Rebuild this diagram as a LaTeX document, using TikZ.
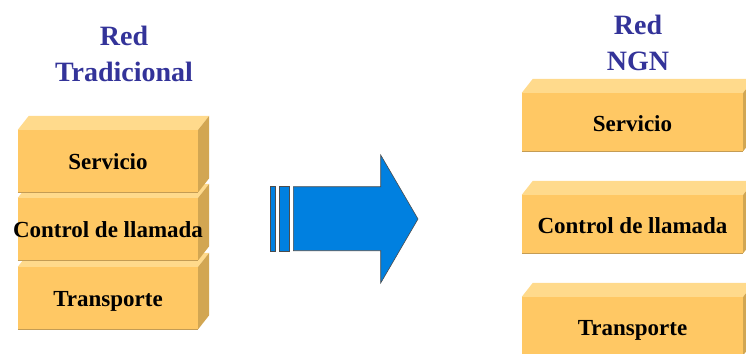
\documentclass[tikz,border=0pt]{standalone}
\usepackage{fontspec}
\setmainfont{Liberation Serif}
\usetikzlibrary{calc}

\definecolor{boxfront}{RGB}{255,200,100}
\definecolor{boxtop}{RGB}{255,218,140}
\definecolor{boxside}{RGB}{210,166,82}
\definecolor{boxedge}{RGB}{196,156,84}
\definecolor{titleblue}{RGB}{51,51,153}
\definecolor{arrowblue}{RGB}{0,128,224}

\begin{document}
\begin{tikzpicture}[
    x=1pt, y=-1pt,
    layer/.style={rectangle, fill=boxfront, inner sep=0pt},
    tradlayer/.style={layer, minimum width=180pt, minimum height=62pt},
    ngnlayer/.style={layer, minimum width=221pt, minimum height=58pt},
    topface/.style={fill=boxtop},
    sideface/.style={fill=boxside},
    bottomedge/.style={draw=boxedge, line width=1pt},
    label/.style={anchor=base, inner sep=0pt, font=\bfseries\fontsize{23}{27}\selectfont},
    title/.style={align=center, text=titleblue, font=\bfseries\fontsize{28}{36.5}\selectfont},
    bigarrow/.style={fill=arrowblue, draw=black!70, line width=0.6pt}
]
\useasboundingbox (0,0) rectangle (746,353);

% titles
\node[title] (tradtitle) at (124,54) {Red\\Tradicional};
\node[title] (ngntitle) at (638,43) {Red\\NGN};

% left stack, drawn from the bottom up so each box hides the top of the one below
\foreach \name/\y/\txt in {tradtrans/298/Transporte, tradctrl/229/Control de llamada, tradserv/161/Servicio}{
    \node[tradlayer] (\name) at (108,\y) {};
    \fill[topface] (\name.north west) -- ++(11,-14) -- ($(\name.north east)+(11,-14)$) -- (\name.north east) -- cycle;
    \fill[sideface] (\name.north east) -- ++(11,-14) -- ($(\name.south east)+(11,-14)$) -- (\name.south east) -- cycle;
    \draw[bottomedge] (\name.south west) -- (\name.south east);
    \node[label] (\name-text) at ($(\name.center)+(0,8.5)$) {\txt};
}

% right stack, separate layers
\foreach \name/\y/\txt in {ngnserv/122/Servicio, ngnctrl/224/Control de llamada, ngntrans/326/Transporte}{
    \node[ngnlayer] (\name) at (632.5,\y) {};
    \fill[topface] (\name.north west) -- ++(11,-14) -- ($(\name.north east)+(11,-14)$) -- (\name.north east) -- cycle;
    \fill[sideface] (\name.north east) -- ++(11,-14) -- ($(\name.south east)+(11,-14)$) -- (\name.south east) -- cycle;
    \draw[bottomedge] (\name.south west) -- (\name.south east);
    \node[label] (\name-text) at ($(\name.center)+(0,9)$) {\txt};
}

% striped block arrow between the two stacks
\filldraw[bigarrow] (270,186) rectangle (275.3,251.7);
\filldraw[bigarrow] (279.3,186) rectangle (289.3,251.7);
\filldraw[bigarrow] (293.3,186.7) -- (380.7,186.7) -- (380.7,155) -- (418,219)
    -- (380.7,283) -- (380.7,250.7) -- (293.3,250.7) -- cycle;

\end{tikzpicture}
\end{document}
